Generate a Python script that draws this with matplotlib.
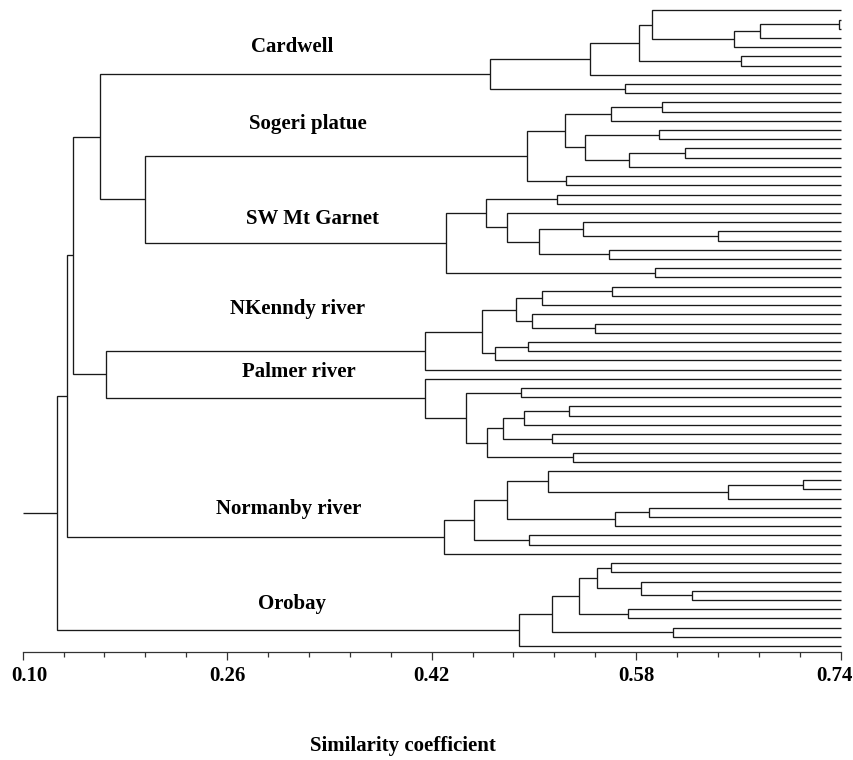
import matplotlib
matplotlib.use("Agg")
import matplotlib.pyplot as plt
import numpy as np
from matplotlib.transforms import ScaledTranslation

L = None  # a leaf (sample)

# merge similarity of each internal node: (similarity, left child, right child)
cardwell = (0.4659,
            (0.5439,
             (0.5820,
              (0.5922, L, (0.6568, (0.6769, (0.7390, L, L), L), L)),
              (0.6621, L, L)),
             L),
            (0.5711, L, L))
sogeri = (0.4948,
          (0.5246,
           (0.5601, (0.6000, L, L), L),
           (0.5400, (0.5977, L, L), (0.5742, (0.6185, L, L), L))),
          (0.5249, L, L))
sw_garnet = (0.4315,
             (0.4625,
              (0.5178, L, L),
              (0.4787, L, (0.5042, (0.5387, L, (0.6443, L, L)), (0.5588, L, L)))),
             (0.5950, L, L))
nkennedy = (0.4148,
            (0.4594,
             (0.4858, (0.5061, (0.5611, L, L), L), (0.4988, L, (0.5476, L, L))),
             (0.4698, (0.4956, L, L), L)),
            L)
palmer = (0.4150, L,
          (0.4469,
           (0.4897, L, L),
           (0.4631, (0.4758, (0.4925, (0.5277, L, L), L), (0.5144, L, L)),
            (0.5306, L, L))))
normanby = (0.4299,
            (0.4529,
             (0.4787, (0.5108, L, (0.6519, (0.7103, L, L), L)),
              (0.5637, (0.5903, L, L), L)),
             (0.4959, L, L)),
            L)
orobay = (0.4883,
          (0.5144,
           (0.5353, (0.5491, (0.5601, L, L), (0.5836, L, (0.6239, L, L))),
            (0.5734, L, L)),
           (0.6091, L, L)),
          L)

# upper-level merges between the regional clusters
tree = (0.1266,
        (0.1344,
         (0.1391,
          (0.1607, cardwell, (0.1955, sogeri, sw_garnet)),
          (0.1652, nkennedy, palmer)),
         normanby),
        orobay)

cluster_names = ["Cardwell", "Sogeri platue", "SW Mt Garnet", "NKenndy river",
                 "Palmer river", "Normanby river", "Orobay"]
major_ticks = [0.10, 0.26, 0.42, 0.58, 0.74]
major_labels = ["0.10", "0.26", "0.42", "0.58", "0.74"]
x_min, x_max = 0.10, 0.74
n_leaves = 70

# ---------------------------------------------------------------- drawing
W, H = 854, 760
fig = plt.figure(figsize=(W / 100, H / 100), dpi=100)
ax_left, ax_right, ax_bottom = 22.7, 840.6, 651.7
ax = fig.add_axes([ax_left / W, (H - ax_bottom) / H,
                   (ax_right - ax_left) / W, ax_bottom / H])

leaf_top_px, leaf_step_px = 10.3, 9.213
ax.set_xlim(x_min, x_max)
ax.set_ylim((ax_bottom - leaf_top_px) / leaf_step_px, -leaf_top_px / leaf_step_px)

LINE = dict(color="#1a1a1a", lw=0.95, solid_joinstyle="miter",
            solid_capstyle="butt", clip_on=False)
counter = [0]


def draw(node):
    if node is None:
        y = counter[0]
        counter[0] += 1
        return x_max, y
    s, a, b = node
    xa, ya = draw(a)
    xb, yb = draw(b)
    ax.plot([xa, s, s, xb], [ya, ya, yb, yb], **LINE)
    return s, (ya + yb) / 2


rx, ry = draw(tree)
ax.plot([x_min, rx], [ry, ry], **LINE)

# axis styling
for sp in ("left", "right", "top"):
    ax.spines[sp].set_visible(False)
ax.spines["bottom"].set_linewidth(0.9)
ax.spines["bottom"].set_color("#333333")
ax.yaxis.set_visible(False)
ax.set_xticks(major_ticks)
ax.set_xticks(np.linspace(x_min, x_max, 21), minor=True)
ax.set_xticklabels(major_labels)
ax.tick_params(axis="x", which="major", direction="out", length=6, width=0.9,
               color="#333333", pad=4)
ax.tick_params(axis="x", which="minor", direction="out", length=3.6, width=0.9,
               color="#333333")
font = dict(family="Liberation Serif", weight="bold", size=15)
for lab in ax.get_xticklabels():
    lab.set_fontfamily("Liberation Serif")
    lab.set_fontweight("bold")
    lab.set_fontsize(15)
labs = ax.get_xticklabels()
labs[0].set_transform(labs[0].get_transform() + ScaledTranslation(7 / 100, 0, fig.dpi_scale_trans))
labs[-1].set_transform(labs[-1].get_transform() + ScaledTranslation(-6 / 100, 0, fig.dpi_scale_trans))

# cluster labels
label_px = [(250.7, 52.3), (249.3, 129.0), (246.0, 224.0), (230.0, 314.0),
            (242.0, 377.0), (216.0, 514.0), (258.0, 609.0)]
for name, (px, py) in zip(cluster_names, label_px):
    fig.text(px / W, 1 - py / H, name, ha="left", va="baseline", **font)

fig.text(402.5 / W, 1 - 751 / H, "Similarity coefficient", ha="center",
         va="baseline", **font)

fig.savefig("out.png", dpi=100)
